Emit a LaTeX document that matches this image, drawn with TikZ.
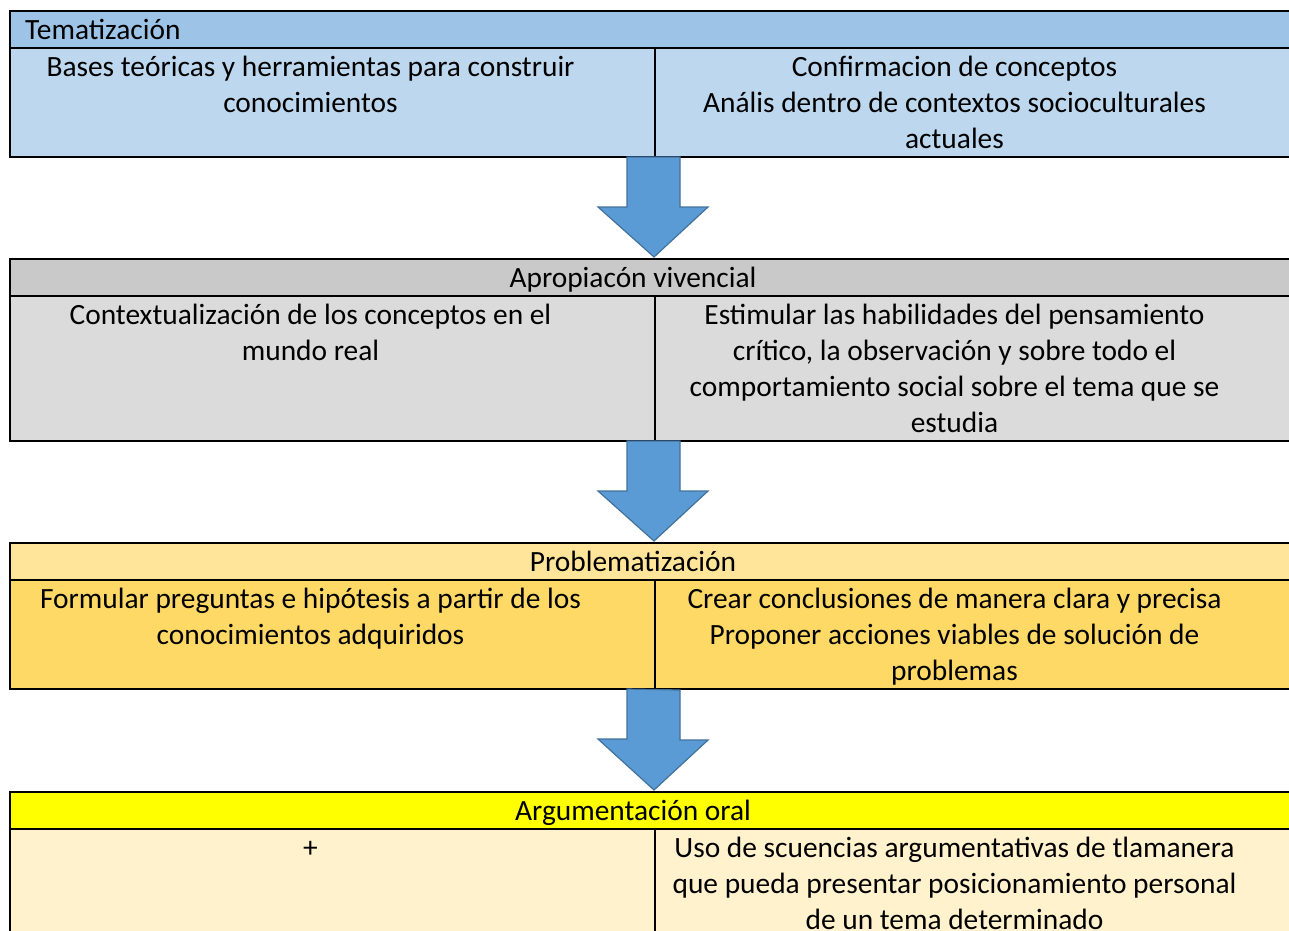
\documentclass[tikz,border=0pt]{standalone}
\usepackage{fontspec}
\setmainfont{Carlito}
\usetikzlibrary{calc}

\definecolor{temaHead}{HTML}{9DC3E6}
\definecolor{temaBody}{HTML}{BDD7EE}
\definecolor{aproHead}{HTML}{C9C9C9}
\definecolor{aproBody}{HTML}{DBDBDB}
\definecolor{probHead}{HTML}{FFE599}
\definecolor{probBody}{HTML}{FFD966}
\definecolor{argHead}{HTML}{FFFF00}
\definecolor{argBody}{HTML}{FFF2CC}
\definecolor{arrowFill}{HTML}{5B9BD5}
\definecolor{arrowEdge}{HTML}{41719C}

\newcommand\lineas[1]{\begin{tabular}[t]{@{}c@{}}#1\end{tabular}}

\begin{document}
\begin{tikzpicture}[x=1pt, y=-1pt,
  font=\fontsize{29.4}{36}\selectfont,
  head/.style={draw, line width=2pt, anchor=north west, outer sep=0,
    minimum width=1288, minimum height=37, inner sep=0},
  cell/.style={draw, line width=2pt, anchor=north west, outer sep=0, inner sep=0},
  txt/.style={anchor=base, inner sep=0},
  flecha/.style={fill=arrowFill, draw=arrowEdge, line width=1.2pt, line join=miter}]

  \useasboundingbox (0,0) rectangle (1289,930);
  \clip (0,0) rectangle (1289,930);

  %% Tematizacion
  \node[head, fill=temaHead] (tema) at (10,11) {};
  \node[cell, fill=temaBody, minimum width=645, minimum height=109] (temaL) at (tema.south west) {};
  \node[cell, fill=temaBody, minimum width=643, minimum height=109] (temaR) at (temaL.north east) {};
  \node[txt, anchor=base west] (temaT) at ([xshift=15, yshift=-28.3]tema.north west) {Tematización};
  \node[txt] (temaLT) at ([xshift=-22, yshift=-28]temaL.north)
    {\lineas{Bases teóricas y herramientas para construir\\conocimientos}};
  \node[txt] (temaRT) at ([xshift=-22, yshift=-28]temaR.north)
    {\lineas{Confirmacion de conceptos\\Anális dentro de contextos socioculturales\\actuales}};

  %% Apropiacion vivencial
  \node[head, fill=aproHead] (apro) at (10,259) {};
  \node[cell, fill=aproBody, minimum width=645, minimum height=145] (aproL) at (apro.south west) {};
  \node[cell, fill=aproBody, minimum width=643, minimum height=145] (aproR) at (aproL.north east) {};
  \node[txt] (aproT) at ([xshift=-21, yshift=-28.3]apro.north) {Apropiacón vivencial};
  \node[txt] (aproLT) at ([xshift=-22, yshift=-28]aproL.north)
    {\lineas{Contextualización de los conceptos en el\\mundo real}};
  \node[txt] (aproRT) at ([xshift=-22, yshift=-28]aproR.north)
    {\lineas{Estimular las habilidades del pensamiento\\crítico, la observación y sobre todo el\\comportamiento social sobre el tema que se\\estudia}};

  %% Problematizacion
  \node[head, fill=probHead] (prob) at (10,543) {};
  \node[cell, fill=probBody, minimum width=645, minimum height=109] (probL) at (prob.south west) {};
  \node[cell, fill=probBody, minimum width=643, minimum height=109] (probR) at (probL.north east) {};
  \node[txt] (probT) at ([xshift=-21, yshift=-28.3]prob.north) {Problematización};
  \node[txt] (probLT) at ([xshift=-22, yshift=-28]probL.north)
    {\lineas{Formular preguntas e hipótesis a partir de los\\conocimientos adquiridos}};
  \node[txt] (probRT) at ([xshift=-22, yshift=-28]probR.north)
    {\lineas{Crear conclusiones de manera clara y precisa\\Proponer acciones viables de solución de\\problemas}};

  %% Argumentacion oral
  \node[head, fill=argHead] (arg) at (10,792) {};
  \node[cell, fill=argBody, minimum width=645, minimum height=109] (argL) at (arg.south west) {};
  \node[cell, fill=argBody, minimum width=643, minimum height=109] (argR) at (argL.north east) {};
  \node[txt] (argT) at ([xshift=-21, yshift=-28.3]arg.north) {Argumentación oral};
  \node[txt] (argLT) at ([xshift=-22, yshift=-28]argL.north) {+};
  \node[txt] (argRT) at ([xshift=-22, yshift=-28]argR.north)
    {\lineas{Uso de scuencias argumentativas de tlamanera\\que pueda presentar posicionamiento personal\\de un tema determinado}};

  %% flechas
  \draw[flecha] ([xshift=-28]temaR.south west) -- ++(0,50) -- ++(-29,0)
    -- ([yshift=2]apro.north) -- ++(54,-50) -- ++(-28,0) -- ++(0,-50) -- cycle;
  \draw[flecha] ([xshift=-28]aproR.south west) -- ++(0,50) -- ++(-29,0)
    -- ([yshift=2]prob.north) -- ++(54,-50) -- ++(-28,0) -- ++(0,-50) -- cycle;
  \draw[flecha] ([xshift=-28]probR.south west) -- ++(0,50) -- ++(-29,0)
    -- ([yshift=2]arg.north) -- ++(54,-50) -- ++(-28,0) -- ++(0,-50) -- cycle;
\end{tikzpicture}
\end{document}
